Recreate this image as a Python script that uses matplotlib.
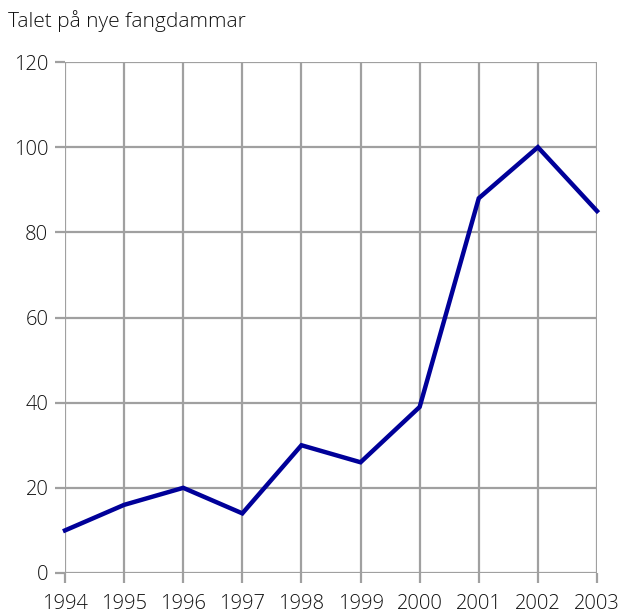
import matplotlib.pyplot as plt

# data
years = [1994, 1995, 1996, 1997, 1998, 1999, 2000, 2001, 2002, 2003]
dams = [10, 16, 20, 14, 30, 26, 39, 88, 100, 85]
y_ticks = [0, 20, 40, 60, 80, 100, 120]

plt.rcParams['font.family'] = ['Open Sans', 'DejaVu Sans']
plt.rcParams['font.weight'] = 'light'

fig = plt.figure(figsize=(6.22, 6.16), dpi=100)
ax = fig.add_axes([65 / 622, 43 / 616, 532 / 622, 511 / 616])

grid_col = '#a0a0a0'
ax.plot(years, dams, color='#000099', linewidth=3.2, clip_on=False, zorder=3,
        solid_joinstyle='miter')

ax.set_xlim(years[0], years[-1])
ax.set_ylim(0, 120)
ax.set_xticks(years)
ax.set_yticks(y_ticks)
ax.grid(True, color=grid_col, linewidth=1.6)
for s in ax.spines.values():
    s.set_visible(False)
ax.tick_params(axis='both', colors=grid_col, width=1.6, length=7,
               labelcolor='#111111', labelsize=14.5)
ax.tick_params(axis='x', pad=8)
ax.tick_params(axis='y', pad=5)

fig.text(8 / 622, 1 - 21 / 616, 'Talet på nye fangdammar', fontsize=15,
         color='#111111', va='center', ha='left')

fig.savefig('out.png', dpi=100)
